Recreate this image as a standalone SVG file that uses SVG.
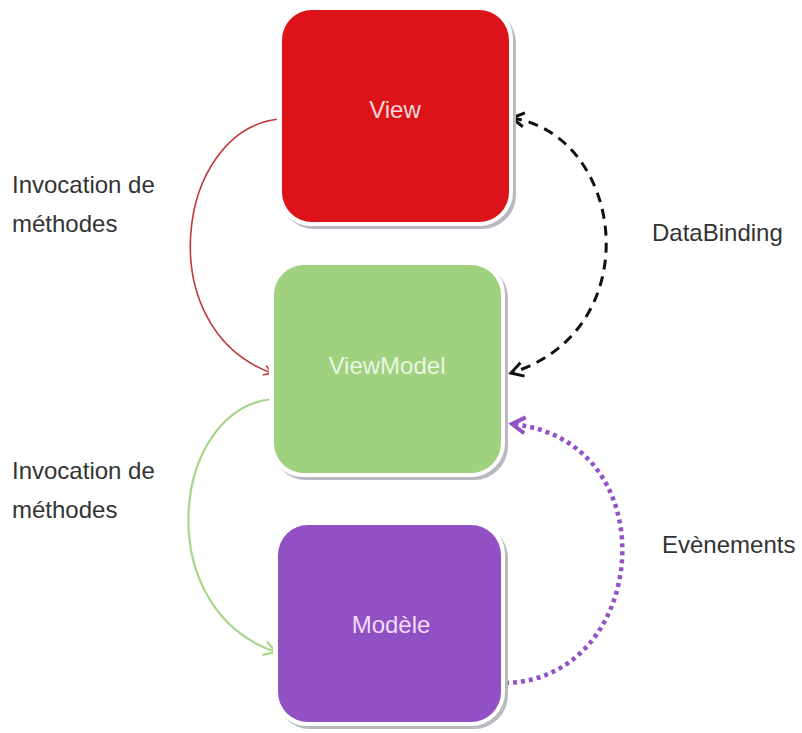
<svg xmlns="http://www.w3.org/2000/svg" width="802" height="733" viewBox="0 0 802 733">
<style>
  .lbl { font-family: "Liberation Sans", Arial, sans-serif; font-size: 24px; fill: #333333; }
  .box-txt { font-family: "Liberation Sans", Arial, sans-serif; font-size: 24px; text-anchor: middle; }
  .shadow { fill: #b9b9c2; }
  .rim { fill: #ffffff; }
  .conn { fill: none; }
</style>
<defs>
  <marker id="arrRed" markerUnits="userSpaceOnUse" markerWidth="16" markerHeight="16" viewBox="-12 -8 16 16" refX="0" refY="0" orient="auto">
    <path d="M-8,-5 L0,0 L-8,5" fill="none" stroke="#c0393b" stroke-width="1.6"/>
  </marker>
  <marker id="arrGreen" markerUnits="userSpaceOnUse" markerWidth="20" markerHeight="20" viewBox="-16 -10 20 20" refX="0" refY="0" orient="auto">
    <path d="M-12,-7 L0,0 L-12,7" fill="none" stroke="#a6d68c" stroke-width="2.2"/>
  </marker>
  <marker id="arrBlack" markerUnits="userSpaceOnUse" markerWidth="22" markerHeight="22" viewBox="-16 -11 22 22" refX="0" refY="0" orient="auto-start-reverse">
    <path d="M-12,-7 L0,0 L-12,7" fill="none" stroke="#111111" stroke-width="3"/>
  </marker>
  <marker id="arrPurple" markerUnits="userSpaceOnUse" markerWidth="24" markerHeight="24" viewBox="-18 -12 24 24" refX="0" refY="0" orient="auto">
    <path d="M-13,-8 L0,0 L-13,8" fill="none" stroke="#9552c6" stroke-width="4"/>
  </marker>
</defs>

<g id="connectors">
  <path class="conn" d="M279,119 C175,130 150,330 272,373" stroke="#c0393b" stroke-width="1.6" marker-end="url(#arrRed)"/>
  <path class="conn" d="M272,399 C170,410 150,610 276,652" stroke="#a6d68c" stroke-width="2.2" marker-end="url(#arrGreen)"/>
  <path class="conn" d="M512,118 C625,135 650,330 511,373" stroke="#111111" stroke-width="3" stroke-dasharray="10 7" marker-start="url(#arrBlack)" marker-end="url(#arrBlack)"/>
  <path class="conn" d="M505,683 C650,680 670,440 512,424" stroke="#9552c6" stroke-width="4.5" stroke-dasharray="4 4" marker-end="url(#arrPurple)"/>
</g>

<g id="view">
  <rect class="shadow" x="280" y="9" width="236" height="220" rx="34"/>
  <rect class="rim" x="277" y="5" width="236" height="221" rx="34"/>
  <rect x="282" y="10" width="227" height="212" rx="30" fill="#dc1419"/>
  <text class="box-txt" x="395" y="118" fill="#f6d6d8">View</text>
</g>

<g id="viewmodel">
  <rect class="shadow" x="272" y="264" width="236" height="216" rx="34"/>
  <rect class="rim" x="269" y="260" width="236" height="217" rx="34"/>
  <rect x="274" y="265" width="227" height="208" rx="30" fill="#9fd17f"/>
  <text class="box-txt" x="387" y="374" fill="#eaf6e2">ViewModel</text>
</g>

<g id="modele">
  <rect class="shadow" x="276" y="524" width="232" height="205" rx="34"/>
  <rect class="rim" x="273" y="520" width="232" height="206" rx="34"/>
  <rect x="278" y="525" width="223" height="197" rx="30" fill="#9150c4"/>
  <text class="box-txt" x="391" y="633" fill="#f1dcf6">Modèle</text>
</g>

<g id="labels">
  <text class="lbl" x="12" y="193">Invocation de</text>
  <text class="lbl" x="12" y="232">méthodes</text>
  <text class="lbl" x="12" y="479">Invocation de</text>
  <text class="lbl" x="12" y="518">méthodes</text>
  <text class="lbl" x="652" y="241">DataBinding</text>
  <text class="lbl" x="662" y="553">Evènements</text>
</g>
</svg>
